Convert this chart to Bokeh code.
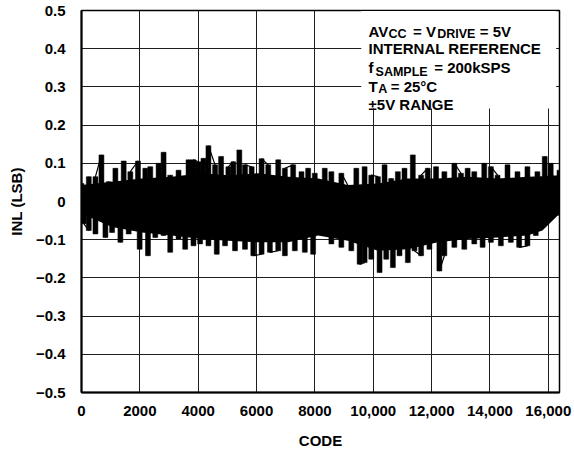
from bokeh.plotting import figure
from bokeh.models import Range1d, FixedTicker, BoxAnnotation, Label
from bokeh.embed import file_html
from bokeh.resources import INLINE

# ---- data (INL, LSB) ----
# outer envelope of the noisy trace: highest points
upper_codes = [0, 250, 478, 683, 934, 1162, 1446, 1674, 1936, 2187, 2358, 2642, 2813,
               3041, 3326, 3668, 3838, 4009, 4180, 4351, 4579, 4784, 5034, 5205, 5410,
               5604, 5832, 6173, 6401, 6743, 6971, 7255, 7540, 7768, 7996, 8337, 8565,
               8907, 9192, 9420, 9704, 9932, 10160, 10388, 10616, 10843, 11071, 11356,
               11641, 11869, 12153, 12438, 12780, 13007, 13235, 13463, 13805, 14033,
               14261, 14602, 14944, 15285, 15627, 15878, 16083, 16383]
upper_inl = [0.047, 0.065, 0.065, 0.122, 0.052, 0.087, 0.106, 0.078, 0.106, 0.087, 0.091,
             0.100, 0.129, 0.069, 0.082, 0.109, 0.109, 0.104, 0.113, 0.146, 0.096, 0.118,
             0.091, 0.104, 0.135, 0.096, 0.091, 0.112, 0.096, 0.109, 0.087, 0.096, 0.078,
             0.087, 0.074, 0.087, 0.078, 0.074, 0.034, 0.087, 0.091, 0.069, 0.065, 0.096,
             0.060, 0.078, 0.087, 0.122, 0.069, 0.087, 0.091, 0.078, 0.100, 0.074, 0.087,
             0.078, 0.100, 0.091, 0.069, 0.096, 0.078, 0.091, 0.078, 0.118, 0.100, 0.082]
# outer envelope: lowest points
lower_codes = [0, 80, 250, 478, 820, 1048, 1333, 1617, 1993, 2278, 2529, 2813, 3041, 3326,
               3554, 3838, 4066, 4351, 4636, 4921, 5262, 5604, 5889, 6173, 6458, 6743,
               6971, 7312, 7654, 7939, 8223, 8565, 8907, 9249, 9533, 9704, 9932, 10217,
               10445, 10673, 10900, 11185, 11413, 11641, 11925, 12267, 12438, 12780,
               13121, 13463, 13748, 14033, 14374, 14716, 15001, 15285, 15570, 15798,
               16083, 16383]
lower_inl = [-0.032, -0.058, -0.076, -0.085, -0.094, -0.081, -0.107, -0.085, -0.125, -0.142,
             -0.094, -0.089, -0.133, -0.098, -0.125, -0.116, -0.111, -0.116, -0.138, -0.116,
             -0.129, -0.125, -0.142, -0.138, -0.133, -0.129, -0.142, -0.129, -0.133, -0.138,
             -0.085, -0.111, -0.120, -0.129, -0.164, -0.160, -0.151, -0.186, -0.151, -0.173,
             -0.142, -0.160, -0.129, -0.142, -0.125, -0.182, -0.142, -0.120, -0.125, -0.111,
             -0.120, -0.107, -0.116, -0.107, -0.120, -0.116, -0.089, -0.063, -0.041, -0.036]
# solid core of the trace
core_codes = [0, 1048, 2073, 3098, 4123, 5034, 6060, 7085, 8110, 9135, 10160, 11185,
              12210, 13235, 14261, 15285, 15800, 16383]
core_hi = [0.043, 0.052, 0.060, 0.065, 0.074, 0.069, 0.074, 0.065, 0.060, 0.043, 0.047,
           0.060, 0.060, 0.065, 0.060, 0.065, 0.066, 0.069]
core_lo = [-0.032, -0.067, -0.081, -0.089, -0.098, -0.103, -0.107, -0.107, -0.089, -0.103,
           -0.129, -0.125, -0.107, -0.098, -0.094, -0.089, -0.076, -0.032]

x_ticks = [0, 2000, 4000, 6000, 8000, 10000, 12000, 14000, 16000]
x_tick_labels = ["0", "2000", "4000", "6000", "8000", "10,000", "12,000", "14,000", "16,000"]
y_ticks = [-0.5, -0.4, -0.3, -0.2, -0.1, 0, 0.1, 0.2, 0.3, 0.4, 0.5]
y_tick_labels = ["\u22120.5", "\u22120.4", "\u22120.3", "\u22120.2", "\u22120.1", "0",
                 "0.1", "0.2", "0.3", "0.4", "0.5"]

FONT = "Liberation Sans"

p = figure(width=574, height=451, output_backend="svg", toolbar_location=None,
           x_range=Range1d(0, 16384), y_range=Range1d(-0.5, 0.5),
           min_border_left=81, min_border_right=15, min_border_top=10, min_border_bottom=59)
p.background_fill_color = "white"
p.border_fill_color = "white"
p.outline_line_color = "black"
p.outline_line_width = 1.5

# solid core
p.varea(x=core_codes, y1=core_lo, y2=core_hi, fill_color="black")
# excursions as narrow columns
p.vbar(x=upper_codes, bottom=0, top=upper_inl, width=170, fill_color="black", line_color="black", line_width=0.5)
p.vbar(x=lower_codes, bottom=lower_inl, top=0, width=170, fill_color="black", line_color="black", line_width=0.5)
# trace alternating between high and low excursions
pts = sorted([(c, v) for c, v in zip(upper_codes, upper_inl)] +
             [(c, v) for c, v in zip(lower_codes, lower_inl)])
p.line([c for c, _ in pts], [v for _, v in pts], line_color="black", line_width=1.2)

# axes
p.xaxis.ticker = FixedTicker(ticks=x_ticks)
p.xaxis.major_label_overrides = dict(zip(x_ticks, x_tick_labels))
p.yaxis.ticker = FixedTicker(ticks=y_ticks)
p.yaxis.major_label_overrides = dict(zip(y_ticks, y_tick_labels))
for ax in (p.xaxis, p.yaxis):
    ax.major_tick_line_color = None
    ax.minor_tick_line_color = None
    ax.axis_line_width = 2
    ax.axis_line_color = "black"
    ax.major_label_text_font = FONT
    ax.major_label_text_font_style = "bold"
    ax.major_label_text_font_size = "15px"
    ax.major_label_text_color = "black"
    ax.axis_label_text_font = FONT
    ax.axis_label_text_font_style = "bold"
    ax.axis_label_text_font_size = "15px"
    ax.axis_label_text_color = "black"
p.xaxis.axis_label = "CODE"
p.yaxis.axis_label = "INL (LSB)"
p.xaxis.major_label_standoff = 7
p.yaxis.major_label_standoff = 10
p.xaxis.axis_label_standoff = 13
p.yaxis.axis_label_standoff = 8

for g in (p.xgrid, p.ygrid):
    g.grid_line_color = "#1e1e1e"
    g.grid_line_width = 1

# white box behind the conditions text
p.add_layout(BoxAnnotation(left=9590, right=16269, bottom=0.2435, top=0.499,
                           fill_color="white", fill_alpha=1.0, line_color=None))

def lab(x, y, text, size):
    p.add_layout(Label(x=x, y=y, text=text, text_font=FONT, text_font_style="bold",
                       text_font_size=size, text_color="black",
                       text_align="left", text_baseline="alphabetic"))

MAIN, SUB = "15px", "12.5px"
lab(9840, 0.4458, "AV", MAIN)
lab(10525, 0.4372, "CC", SUB)
lab(11361, 0.4458, "= V", MAIN)
lab(12190, 0.4372, "DRIVE", SUB)
lab(13650, 0.4458, "= 5V", MAIN)
lab(9840, 0.4013, "INTERNAL REFERENCE", MAIN)
lab(9840, 0.3500, "f", MAIN)
lab(10079, 0.3377, "SAMPLE", SUB)
lab(12090, 0.3500, "= 200kSPS", MAIN)
lab(9840, 0.3018, "T", MAIN)
lab(10172, 0.2932, "A", SUB)
lab(10600, 0.3018, "= 25\u00b0C", MAIN)
lab(9840, 0.2539, "\u00b15V RANGE", MAIN)

open("out.html", "w").write(file_html(p, INLINE))
